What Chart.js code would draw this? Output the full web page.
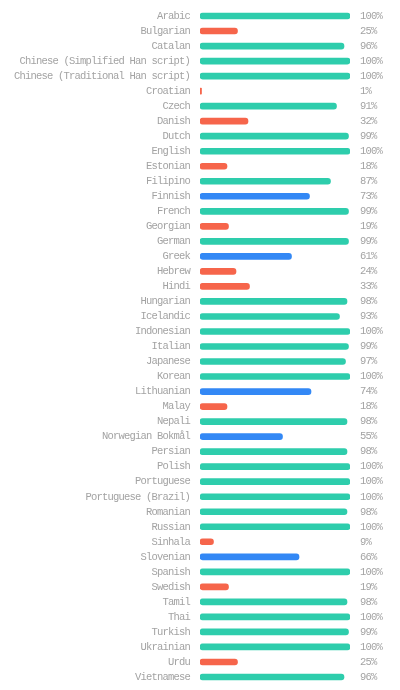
<!DOCTYPE html>
<html>
<head>
<meta charset="utf-8">
<script src="https://cdn.jsdelivr.net/npm/chart.js@4"></script>
<style>
  html, body { margin: 0; padding: 0; background: #fff; }
  #wrap { width: 400px; height: 690px; }
</style>
</head>
<body>
<div id="wrap"><canvas id="myChart" width="400" height="690"></canvas></div>
<script>
const languages = [
  "Arabic", "Bulgarian", "Catalan", "Chinese (Simplified Han script)",
  "Chinese (Traditional Han script)", "Croatian", "Czech", "Danish", "Dutch",
  "English", "Estonian", "Filipino", "Finnish", "French", "Georgian", "German",
  "Greek", "Hebrew", "Hindi", "Hungarian", "Icelandic", "Indonesian", "Italian",
  "Japanese", "Korean", "Lithuanian", "Malay", "Nepali", "Norwegian Bokmål",
  "Persian", "Polish", "Portuguese", "Portuguese (Brazil)", "Romanian",
  "Russian", "Sinhala", "Slovenian", "Spanish", "Swedish", "Tamil", "Thai",
  "Turkish", "Ukrainian", "Urdu", "Vietnamese"
];
const completion = [
  100, 25, 96, 100, 100, 1, 91, 32, 99, 100, 18, 87, 73, 99, 19, 99,
  61, 24, 33, 98, 93, 100, 99, 97, 100, 74, 18, 98, 55, 98, 100, 100,
  100, 98, 100, 9, 66, 100, 19, 98, 100, 99, 100, 25, 96
];
const percentLabels = completion.map((v) => v + "%");

const GREEN = "#2ecdac";
const BLUE = "#3388f5";
const RED = "#f6654b";
const barColors = completion.map((v) => (v >= 80 ? GREEN : v >= 50 ? BLUE : RED));

const labelFont = { family: "'Liberation Mono', monospace", size: 10.5 };

// tighten the mono font so it spaces like the original
const letterSpacing = {
  id: "letterSpacing",
  beforeUpdate(chart) { chart.ctx.letterSpacing = "-0.8px"; },
  beforeDraw(chart) { chart.ctx.letterSpacing = "-0.8px"; },
};

const noPad = (width) => (scale) => {
  scale.width = width;
  scale.paddingTop = 0;
  scale.paddingBottom = 0;
};

const ctx = document.getElementById("myChart").getContext("2d");
const chart = new Chart(ctx, {
  type: "bar",
  data: {
    labels: languages,
    datasets: [
      {
        data: completion,
        backgroundColor: barColors,
        barThickness: 6,
        borderRadius: 3,
        borderSkipped: false,
        yAxisID: "y",
      },
    ],
  },
  options: {
    indexAxis: "y",
    responsive: false,
    animation: false,
    devicePixelRatio: 1,
    layout: { padding: { top: 8.5, bottom: 5.5, left: 0, right: 0 } },
    plugins: { legend: { display: false }, tooltip: { enabled: false } },
    scales: {
      x: { display: false, min: 0, max: 100 },
      y: {
        position: "left",
        grid: { display: false, drawTicks: false },
        border: { display: false },
        ticks: { color: "#a3a3a3", font: labelFont, padding: 10, autoSkip: false },
        afterFit: noPad(200),
      },
      y2: {
        type: "category",
        labels: percentLabels,
        position: "right",
        offset: true,
        grid: { display: false, drawTicks: false },
        border: { display: false },
        ticks: { color: "#a3a3a3", font: labelFont, padding: 10, autoSkip: false },
        afterFit: noPad(50),
      },
    },
  },
  plugins: [letterSpacing],
});
</script>
</body>
</html>
